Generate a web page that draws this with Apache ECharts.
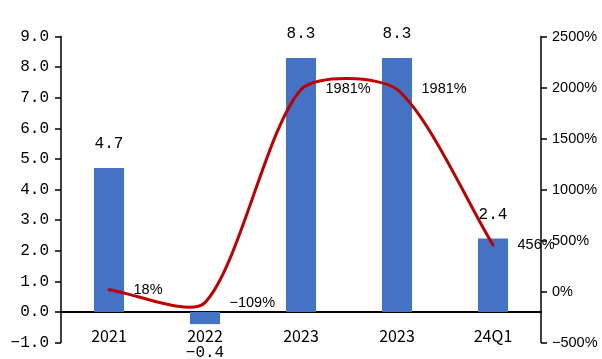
<!DOCTYPE html>
<html>
<head>
<meta charset="utf-8">
<script src="https://cdn.jsdelivr.net/npm/echarts@6/dist/echarts.min.js"></script>
<style>
  html, body { margin: 0; padding: 0; background: #fff; }
  #chart { width: 602px; height: 359px; }
</style>
</head>
<body>
<div id="chart"></div>
<script>
// Periods on the category axis
var categories = ['2021', '2022', '2023', '2023', '24Q1'];
// Net profit (bars, left axis)
var netProfit = [4.7, -0.4, 8.3, 8.3, 2.4];
// Year-on-year growth in percent (line, right axis)
var growthPct = [18, -109, 1981, 1981, 456];
// Tick settings
var leftTicks = { min: -1, max: 9, interval: 1 };
var rightTicks = { min: -500, max: 2500, interval: 500 };

// Curve tension for the smoothed growth line
var TENSION = 0.25;

function minus(s) { return String(s).replace('-', '\u2212'); }

var monoFont = "'Liberation Mono', 'DejaVu Sans Mono', monospace";
var sansFont = "'Liberation Sans', Arial, sans-serif";
var cjkFont = "'Noto Sans CJK SC', 'Noto Sans', sans-serif";

// Positive bars carry their value above, negative ones below (under the axis name)
var barData = netProfit.map(function (v) {
  return {
    value: v,
    label: v < 0 ? { position: 'bottom', distance: 21 } : { position: 'top', distance: 16 }
  };
});

// Smoothed path through every point (control arms scaled by the
// neighbouring segment lengths, without clamping, so the curve may
// bulge past equal-height points).
function renderGrowthCurve(params, api) {
  if (params.dataIndex !== 0) return null;
  var n = params.dataInsideLength !== undefined ? params.dataInsideLength : growthPct.length;
  var pts = [];
  for (var i = 0; i < n; i++) {
    pts.push(api.coord([api.value(0, i), api.value(1, i)]));
  }
  var cpNext = [], cpPrev = [];
  for (var j = 0; j < n; j++) {
    var p = pts[j];
    var prev = pts[j - 1] || p;
    var next = pts[j + 1] || p;
    var vx = next[0] - prev[0], vy = next[1] - prev[1];
    var lp = Math.hypot(p[0] - prev[0], p[1] - prev[1]);
    var ln = Math.hypot(next[0] - p[0], next[1] - p[1]);
    var sum = lp + ln || 1;
    cpNext.push([p[0] + vx * TENSION * ln / sum, p[1] + vy * TENSION * ln / sum]);
    cpPrev.push([p[0] - vx * TENSION * lp / sum, p[1] - vy * TENSION * lp / sum]);
  }
  var d = 'M' + pts[0][0] + ' ' + pts[0][1];
  for (var k = 1; k < n; k++) {
    d += ' C' + cpNext[k - 1][0] + ' ' + cpNext[k - 1][1] + ' ' +
         cpPrev[k][0] + ' ' + cpPrev[k][1] + ' ' + pts[k][0] + ' ' + pts[k][1];
  }
  return {
    type: 'path',
    shape: { pathData: d },
    style: { fill: null, stroke: '#C00000', lineWidth: 3, lineCap: 'round', lineJoin: 'round' },
    silent: true
  };
}

var chart = echarts.init(document.getElementById('chart'), null, { renderer: 'canvas' });
chart.setOption({
  animation: false,
  backgroundColor: '#ffffff',
  grid: {
    left: 61, right: 61, top: 36.5, bottom: 16.5,
    containLabel: false, outerBoundsMode: 'none'
  },
  xAxis: {
    type: 'category',
    data: categories,
    axisLine: { show: true, onZero: true, lineStyle: { color: '#000', width: 2 } },
    axisTick: { show: false },
    // category names sit just under the zero line
    axisLabel: { color: '#000', fontFamily: cjkFont, fontSize: 16, margin: -15 },
    splitLine: { show: false }
  },
  yAxis: [
    {
      type: 'value',
      min: leftTicks.min, max: leftTicks.max, interval: leftTicks.interval,
      axisLine: { show: true, onZero: false, lineStyle: { color: '#000', width: 1.5 } },
      axisTick: { show: true, length: 6, lineStyle: { color: '#000', width: 1.5 } },
      axisLabel: {
        color: '#000', fontFamily: monoFont, fontSize: 16, margin: 12,
        formatter: function (v) { return minus(v.toFixed(1)); }
      },
      splitLine: { show: false }
    },
    {
      type: 'value',
      position: 'right',
      min: rightTicks.min, max: rightTicks.max, interval: rightTicks.interval,
      axisLine: { show: true, onZero: false, lineStyle: { color: '#000', width: 1.5 } },
      axisTick: { show: true, length: 6, lineStyle: { color: '#000', width: 1.5 } },
      axisLabel: {
        color: '#000', fontFamily: sansFont, fontSize: 14.5, margin: 11,
        formatter: function (v) { return minus(v) + '%'; }
      },
      splitLine: { show: false }
    }
  ],
  series: [
    {
      type: 'bar',
      yAxisIndex: 0,
      data: barData,
      barWidth: 30,
      itemStyle: { color: '#4472C4' },
      label: {
        show: true,
        color: '#000',
        fontFamily: monoFont,
        fontSize: 16,
        formatter: function (p) { return minus(p.value.toFixed(1)); }
      },
      z: 2
    },
    {
      // growth curve
      type: 'custom',
      yAxisIndex: 1,
      coordinateSystem: 'cartesian2d',
      data: growthPct.map(function (v, i) { return [i, v]; }),
      encode: { x: 0, y: 1 },
      renderItem: renderGrowthCurve,
      clip: false,
      z: 4
    },
    {
      // growth value labels
      type: 'line',
      yAxisIndex: 1,
      data: growthPct,
      symbol: 'circle',
      symbolSize: 1,
      showSymbol: true,
      itemStyle: { color: 'rgba(0,0,0,0)' },
      lineStyle: { width: 0, opacity: 0 },
      label: {
        show: true,
        position: 'right',
        distance: 24,
        color: '#000',
        fontFamily: sansFont,
        fontSize: 14.5,
        formatter: function (p) { return minus(p.value) + '%'; }
      },
      z: 3
    }
  ]
});
</script>
</body>
</html>
